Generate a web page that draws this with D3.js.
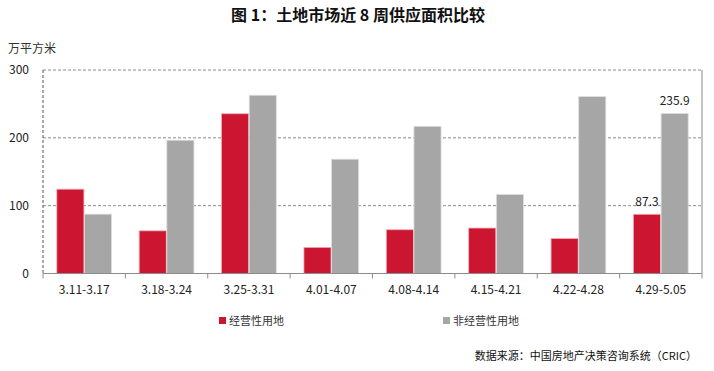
<!DOCTYPE html>
<html>
<head>
<meta charset="utf-8">
<script src="https://cdn.jsdelivr.net/npm/d3@7"></script>
<style>
  body { margin: 0; background: #fff; }
  text { font-family: "Noto Sans CJK SC", "Noto Sans", sans-serif; }
</style>
</head>
<body>
<svg id="chart" width="714" height="371"></svg>
<script>
// datos del gráfico
const semanas = ["3.11-3.17", "3.18-3.24", "3.25-3.31", "4.01-4.07", "4.08-4.14", "4.15-4.21", "4.22-4.28", "4.29-5.05"];
const jingying = [124.3, 62.9, 235.5, 38.5, 64.5, 67, 51.5, 87.3];
const feiJingying = [87.5, 196.5, 262.8, 168.5, 217, 116.5, 260.8, 235.9];
const yTicks = [0, 100, 200, 300];
const series = [
  { name: "经营性用地", values: jingying, color: "#CC1530", edge: "#f3a9b4" },
  { name: "非经营性用地", values: feiJingying, color: "#A6A6A6", edge: "#dedede" },
];

const svg = d3.select("#chart");
const m = { left: 43, right: 702, top: 70, bottom: 273.5 };

const x = d3.scaleBand().domain(semanas).range([m.left, m.right]).paddingInner(0).paddingOuter(0);
const inner = d3.scaleBand().domain(series.map(s => s.name)).range([0, x.bandwidth()]).paddingOuter(0.5).paddingInner(0.02);
const y = d3.scaleLinear().domain([0, 300]).range([m.bottom, m.top]);

// título
svg.append("text")
  .attr("x", 358).attr("y", 21)
  .attr("text-anchor", "middle")
  .style("font-size", "16px").style("font-weight", "bold").style("fill", "#111")
  .text("图 1：土地市场近 8 周供应面积比较");

svg.append("text")
  .attr("x", 8).attr("y", 53)
  .style("font-size", "12px").style("fill", "#333")
  .text("万平方米");

// rejilla
svg.append("g").selectAll("line")
  .data(yTicks.filter(d => d > 0))
  .join("line")
  .attr("x1", m.left).attr("x2", m.right)
  .attr("y1", d => y(d)).attr("y2", d => y(d))
  .attr("stroke", "#8c8c8c").attr("stroke-dasharray", "3,2").attr("stroke-width", 1);

// borde derecho
svg.append("line")
  .attr("x1", m.right).attr("x2", m.right)
  .attr("y1", m.top).attr("y2", m.bottom)
  .attr("stroke", "#8c8c8c");

// eje y
svg.append("line")
  .attr("x1", m.left).attr("x2", m.left)
  .attr("y1", m.top).attr("y2", m.bottom)
  .attr("stroke", "#555").attr("stroke-dasharray", "3,2");

svg.append("g").selectAll("text")
  .data(yTicks)
  .join("text")
  .attr("x", 29).attr("y", d => y(d) + 4)
  .attr("text-anchor", "end")
  .style("font-size", "12px").style("fill", "#222")
  .text(d => d);

// barras
const grupos = svg.append("g").selectAll("g")
  .data(semanas)
  .join("g")
  .attr("transform", d => `translate(${x(d)},0)`);

series.forEach(s => {
  grupos.append("rect")
    .attr("x", inner(s.name))
    .attr("width", inner.bandwidth())
    .attr("y", (d, i) => y(s.values[i]))
    .attr("height", (d, i) => y(0) - y(s.values[i]))
    .attr("fill", s.color)
    .attr("stroke", s.edge)
    .attr("stroke-width", 0.8);
});

// eje x
const xAxis = svg.append("g");
xAxis.append("line")
  .attr("x1", m.left).attr("x2", m.right)
  .attr("y1", m.bottom).attr("y2", m.bottom)
  .attr("stroke", "#8c8c8c").attr("stroke-width", 1.2);
xAxis.selectAll(".tick")
  .data(semanas.map(d => x(d)).concat([m.right]))
  .join("line")
  .attr("x1", d => d).attr("x2", d => d)
  .attr("y1", m.bottom).attr("y2", m.bottom + 5)
  .attr("stroke", "#8c8c8c");
xAxis.selectAll("text")
  .data(semanas)
  .join("text")
  .attr("x", d => x(d) + x.bandwidth() / 2)
  .attr("y", 294)
  .attr("text-anchor", "middle")
  .style("font-size", "12px").style("fill", "#222")
  .text(d => d);

// etiquetas de la última semana
const ult = semanas[semanas.length - 1];
series.forEach(s => {
  const v = s.values[s.values.length - 1];
  svg.append("text")
    .attr("x", x(ult) + inner(s.name) + inner.bandwidth() / 2)
    .attr("y", y(v) - 8)
    .attr("text-anchor", "middle")
    .style("font-size", "12px").style("fill", "#222")
    .text(v.toFixed(1));
});

// leyenda
const leyX = [219, 443];
series.forEach((s, i) => {
  const g = svg.append("g").attr("transform", `translate(${leyX[i]},317)`);
  g.append("rect").attr("x", 0).attr("y", 0).attr("width", 7).attr("height", 7).attr("fill", s.color);
  g.append("text").attr("x", 10).attr("y", 8)
    .style("font-size", "11px").style("fill", "#333")
    .text(s.name);
});

// fuente
svg.append("text")
  .attr("x", 697).attr("y", 360)
  .attr("text-anchor", "end")
  .style("font-size", "11px").style("fill", "#111")
  .text("数据来源：中国房地产决策咨询系统（CRIC）");
</script>
</body>
</html>
